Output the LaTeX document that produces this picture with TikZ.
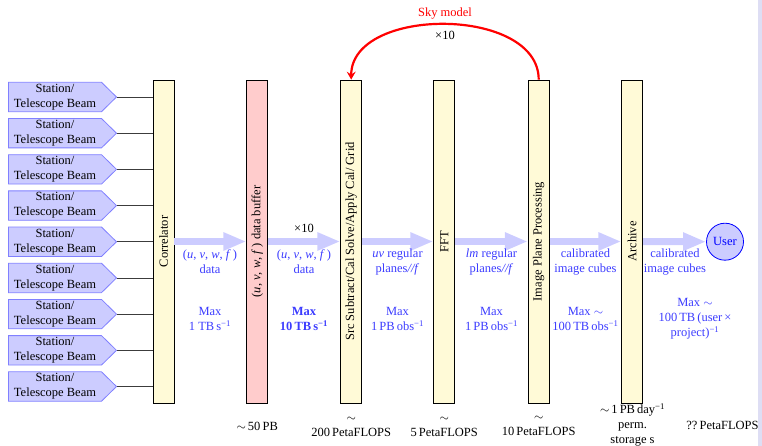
\documentclass[tikz,border=0pt]{standalone}
\usepackage{fontspec}
\setmainfont{Liberation Serif}
\usetikzlibrary{arrows.meta}
\definecolor{boxyellow}{RGB}{255,250,215}
\definecolor{boxpink}{RGB}{255,204,204}
\definecolor{lav}{RGB}{204,204,255}
\definecolor{lavline}{RGB}{128,128,255}
\definecolor{txtblue}{RGB}{60,60,255}
\definecolor{edgestrip}{RGB}{222,222,244}
\definecolor{wirecol}{RGB}{60,60,60}
\begin{document}
\begin{tikzpicture}[x=1pt,y=-1pt,
  every node/.style={font=\fontsize{12.5}{15}\selectfont, inner sep=0pt, align=center},
  pbox/.style={draw=black, line width=0.8pt, fill=boxyellow, minimum width=21pt, minimum height=323pt},
  pinkbox/.style={pbox, fill=boxpink},
  vtext/.style={rotate=90},
  station/.style={draw=lavline, fill=lav, line width=0.8pt},
  wire/.style={draw=wirecol, line width=0.8pt},
  flow/.style={draw=lav, line width=7pt, -{Triangle[length=23pt,width=17pt]}},
  lbl/.style={text=txtblue},
  blbl/.style={text=txtblue, font=\fontsize{12.5}{15}\selectfont\bfseries},
  bot/.style={text=black},
  sky/.style={draw=red, line width=2.2pt, -{Stealth[length=8pt,width=9pt,inset=3pt]}},
  userc/.style={circle, draw=blue, fill=lav, line width=0.8pt, minimum size=37pt, text=blue}
]
\useasboundingbox (0,0) rectangle (762,446);
\fill[edgestrip] (757.5,0) rectangle (762,446);

% processing boxes
\node[pbox] (corr) at (163.5,241.5) {};
\node[vtext] (corrT) at (corr.center) {Correlator};
\node[pinkbox] (buf) at (257.2,241.5) {};
\node[vtext] (bufT) at (buf.center) {(\textit{u}, \textit{v}, \textit{w}, \textit{f}\,) data buffer};
\node[pbox] (src) at (351.2,241.5) {};
\node[vtext] (srcT) at (src.center) {Src Subtract/Cal Solve/Apply Cal/ Grid};
\node[pbox] (fft) at (444.2,241.5) {};
\node[vtext] (fftT) at (fft.center) {FFT};
\node[pbox] (ipp) at (538.7,241.5) {};
\node[vtext] (ippT) at (ipp.center) {Image Plane Processing};
\node[pbox] (arch) at (632.2,241.5) {};
\node[vtext] (archT) at (arch.center) {Archive};
\node[userc] (user) at (725,241.7) {User};

% stations
\foreach \i in {1,...,9}{
  \pgfmathsetmacro\yy{97+36.19*(\i-1)}
  \draw[station] (8.5,\yy-14.7) -- (101.5,\yy-14.7) -- (116.5,\yy) -- (101.5,\yy+14.7) -- (8.5,\yy+14.7) -- cycle;
  \node (st\i) at (55,\yy) {Station/\\Telescope Beam};
  \coordinate (tip\i) at (116.5,\yy);
  \draw[wire] (tip\i) -- (tip\i -| corr.west);
}

% flow arrows
\draw[flow] (corr.east) -- (buf.west);
\draw[flow] (buf.east) -- (src.west);
\draw[flow] (src.east) -- (fft.west);
\draw[flow] (fft.east) -- (ipp.west);
\draw[flow] (ipp.east) -- (arch.west);
\draw[flow] (arch.east) -- (user.west);

% arrow labels
\node (x10a) at (304,228.3) {×10};
\node[lbl] (l1) at (210,262) {(\textit{u}, \textit{v}, \textit{w}, \textit{f}\,)\\data};
\node[lbl] (l2) at (304,262) {(\textit{u}, \textit{v}, \textit{w}, \textit{f}\,)\\data};
\node[lbl] (l3) at (397.5,262) {\textit{uv} regular\\planes\textit{//f}};
\node[lbl] (l4) at (491.5,262) {\textit{lm} regular\\planes\textit{//f}};
\node[lbl] (l5) at (585.5,262) {calibrated\\image cubes};
\node[lbl] (l6) at (675,262) {calibrated\\image cubes};

\node[lbl] (m1) at (210,319) {Max\\1 TB\,s\textsuperscript{−1}};
\node[blbl] (m2) at (304,319) {Max\\10\,TB\,s\textsuperscript{−1}};
\node[lbl] (m3) at (397.5,319) {Max\\1\,PB\,obs\textsuperscript{−1}};
\node[lbl] (m4) at (491.5,319) {Max\\1\,PB\,obs\textsuperscript{−1}};
\node[lbl] (m5) at (585.5,319) {Max $\sim$\\100\,TB\,obs\textsuperscript{−1}};
\node[lbl] (m6) at (695,319) {Max $\sim$\\100\,TB\,(user\,×\\project)\textsuperscript{−1}};

% bottom labels
\node[bot] (b1) at (257.2,426.5) {$\sim$\,50\,PB};
\node[bot] (b2) at (351.2,426.5) {$\sim$\\200\,PetaFLOPS};
\node[bot] (b3) at (444.2,426.5) {$\sim$\\5\,PetaFLOPS};
\node[bot] (b4) at (538.7,426) {$\sim$\\10\,PetaFLOPS};
\node[bot] (b5) at (632.5,425) {$\sim$\,1\,PB\,day\textsuperscript{−1}\\perm.\\storage s};
\node[bot] (b6) at (722.5,425.7) {??\,PetaFLOPS};

% sky model loop
\draw[sky] (ipp.north) .. controls (538.7,6) and (351.2,6) .. (src.north);
\node[text=red] (skylbl) at (445,13.5) {Sky model};
\node (x10b) at (445,35) {×10};
\end{tikzpicture}
\end{document}
